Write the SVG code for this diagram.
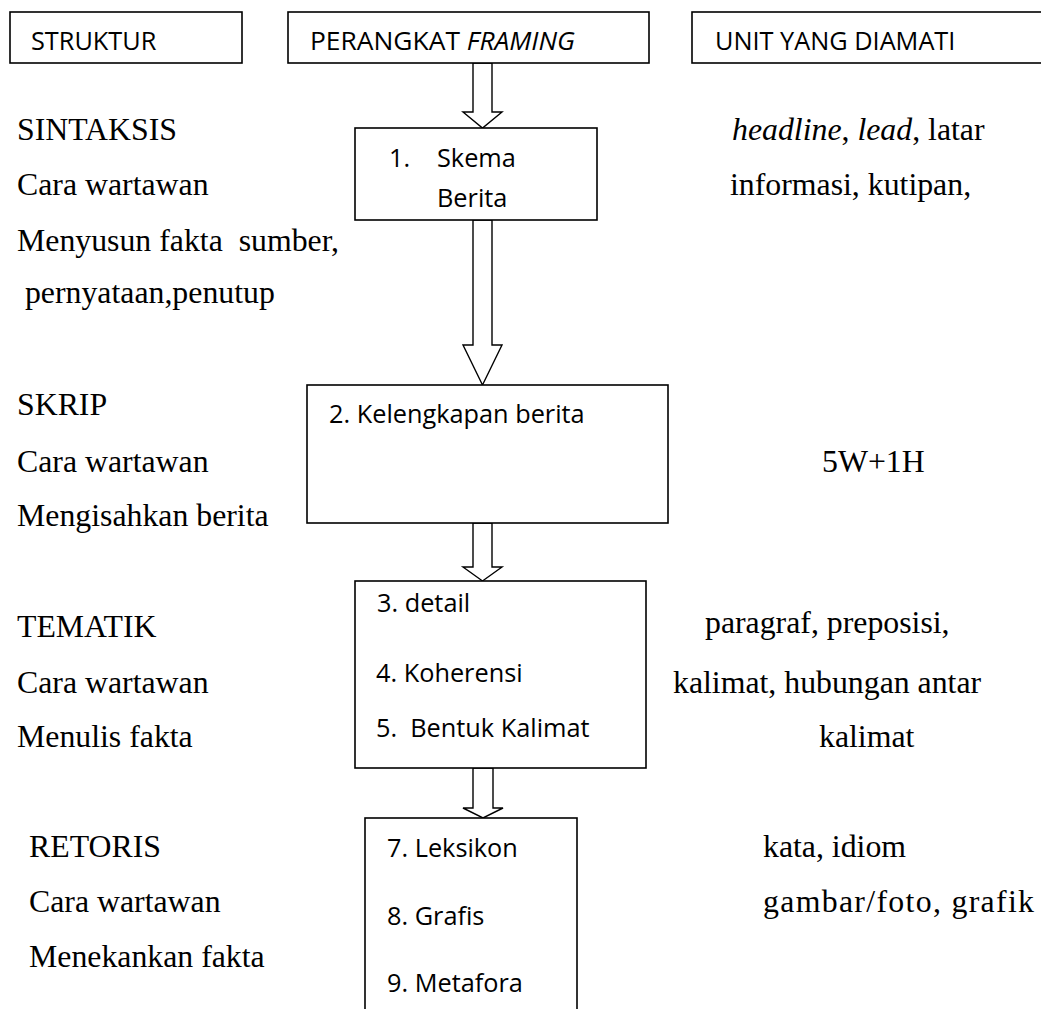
<svg xmlns="http://www.w3.org/2000/svg" width="1041" height="1009" viewBox="0 0 1041 1009">
<style>
.box{fill:#fff;stroke:#000;stroke-width:1.6}
.arr{fill:#fff;stroke:#000;stroke-width:1.4;stroke-linejoin:miter}
.s{font-family:"Open Sans","Liberation Sans",sans-serif;font-size:25.3px;fill:#000}
.t{font-family:"Liberation Serif","Times New Roman",serif;font-size:31.8px;fill:#000}
.i{font-style:italic}
</style>
<rect width="1041" height="1009" fill="#fff"/>
<g id="connectors">
<polygon class="arr" points="473,63 473,112 463,112 482.5,128 502,112 492,112 492,63"/>
<polygon class="arr" points="473,220 473,345 463,345 482.5,385 502,345 492,345 492,220"/>
<polygon class="arr" points="473,523 473,567 463,567 482.5,581 502,567 492,567 492,523"/>
<polygon class="arr" points="473,768 473,808 463,808 483,818 503,808 493,808 493,768"/>
</g>
<g id="header-struktur">
<rect class="box" x="10" y="12" width="232" height="51"/>
<text class="s" x="31" y="50">STRUKTUR</text>
</g>
<g id="header-perangkat">
<rect class="box" x="288" y="12" width="361" height="51"/>
<text class="s" x="310" y="50" textLength="265" lengthAdjust="spacingAndGlyphs">PERANGKAT <tspan class="i">FRAMING</tspan></text>
</g>
<g id="header-unit">
<rect class="box" x="692" y="12" width="360" height="51"/>
<text class="s" x="715" y="50">UNIT YANG DIAMATI</text>
</g>
<g id="node-skema">
<rect class="box" x="355" y="128" width="242" height="92"/>
<text class="s" x="389" y="167">1.</text>
<text class="s" x="437" y="167">Skema</text>
<text class="s" x="437" y="207">Berita</text>
</g>
<g id="node-kelengkapan">
<rect class="box" x="307" y="385" width="361" height="138"/>
<text class="s" x="329" y="423">2. Kelengkapan berita</text>
</g>
<g id="node-tematik">
<rect class="box" x="355" y="581" width="291" height="187"/>
<text class="s" x="377" y="612">3. detail</text>
<text class="s" x="376" y="682">4. Koherensi</text>
<text class="s" x="376" y="737" xml:space="preserve">5.  Bentuk Kalimat</text>
</g>
<g id="node-retoris">
<rect class="box" x="365" y="818" width="212" height="210"/>
<text class="s" x="387" y="857">7. Leksikon</text>
<text class="s" x="387" y="925">8. Grafis</text>
<text class="s" x="387" y="992">9. Metafora</text>
</g>
<g id="left-sintaksis">
<text class="t" x="17" y="140">SINTAKSIS</text>
<text class="t" x="17" y="195">Cara wartawan</text>
<text class="t" x="17" y="251" xml:space="preserve">Menyusun fakta  sumber,</text>
<text class="t" x="17" y="303" xml:space="preserve"> pernyataan,penutup</text>
</g>
<g id="left-skrip">
<text class="t" x="17" y="415">SKRIP</text>
<text class="t" x="17" y="472">Cara wartawan</text>
<text class="t" x="17" y="526">Mengisahkan berita</text>
</g>
<g id="left-tematik">
<text class="t" x="17" y="637">TEMATIK</text>
<text class="t" x="17" y="693">Cara wartawan</text>
<text class="t" x="17" y="747">Menulis fakta</text>
</g>
<g id="left-retoris">
<text class="t" x="29" y="857">RETORIS</text>
<text class="t" x="29" y="912">Cara wartawan</text>
<text class="t" x="29" y="967">Menekankan fakta</text>
</g>
<g id="right-units">
<text class="t" x="732" y="140"><tspan class="i">headline</tspan>, <tspan class="i">lead</tspan>, latar</text>
<text class="t" x="730" y="195">informasi, kutipan,</text>
<text class="t" x="822" y="472">5W+1H</text>
<text class="t" x="705" y="633">paragraf, preposisi,</text>
<text class="t" x="673" y="693">kalimat, hubungan antar</text>
<text class="t" x="819" y="747">kalimat</text>
<text class="t" x="763" y="857">kata, idiom</text>
<text class="t" x="763" y="912" textLength="271" lengthAdjust="spacing">gambar/foto, grafik</text>
</g>
</svg>
